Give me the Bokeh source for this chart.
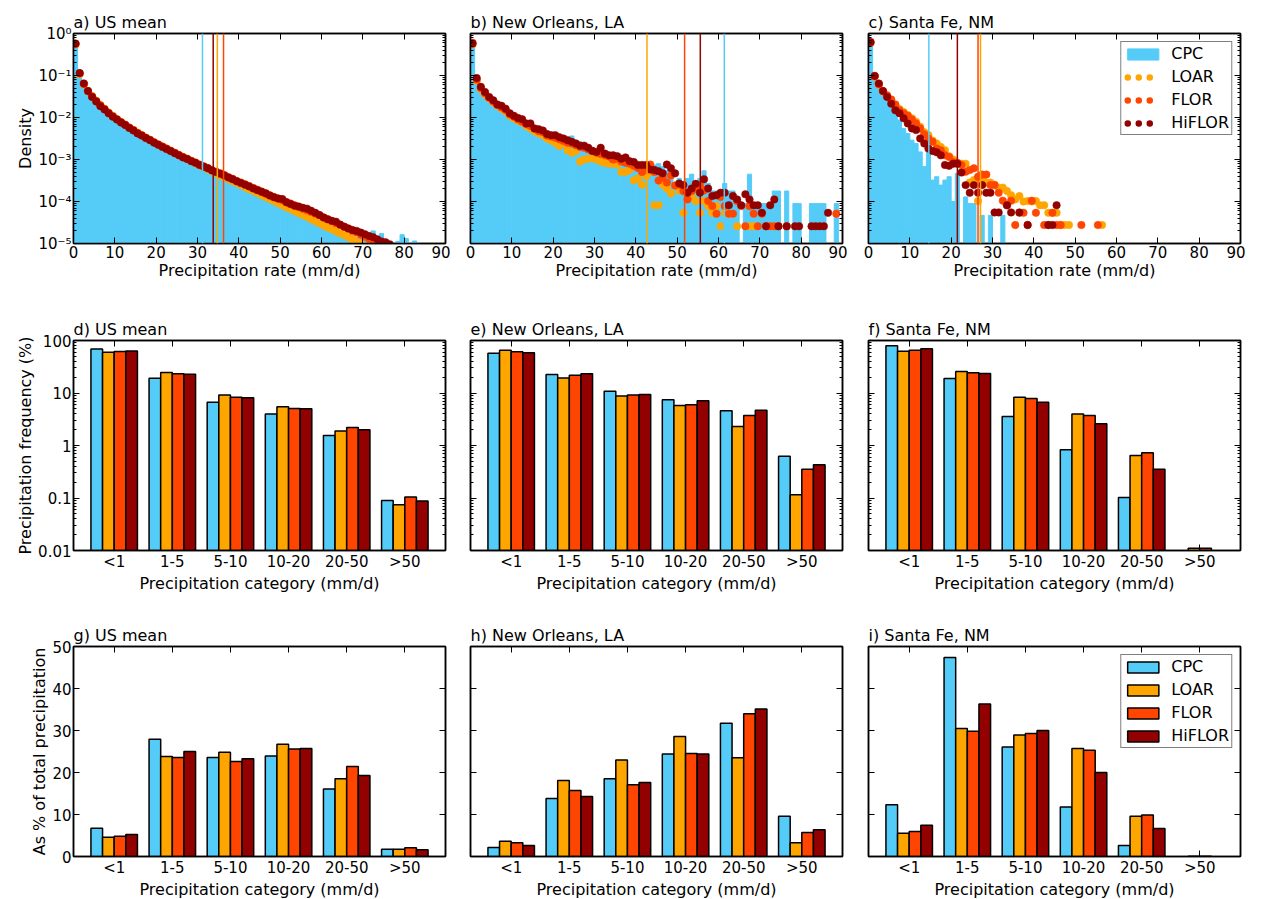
import numpy as np
from bokeh.plotting import figure
from bokeh.layouts import column, row
from bokeh.models import (FactorRange, FixedTicker, LinearAxis, LogAxis, CategoricalAxis,
                          CustomJSTickFormatter, Span, Legend, LegendItem, ColumnDataSource)
from bokeh.transform import dodge
from bokeh.embed import file_html
from bokeh.resources import INLINE

FONT = "DejaVu Sans"
SERIES = ["CPC", "LOAR", "FLOR", "HiFLOR"]
COLORS = {"CPC": "#55CCF8", "LOAR": "#FFA500", "FLOR": "#FF4500", "HiFLOR": "#930000"}
CATS = ["<1", "1-5", "5-10", "10-20", "20-50", ">50"]

# ---------------- top row: log10(density), 1 mm/d bins starting at 0 ----------------
cpc_a = [-0.20, -1.07, -1.26, -1.42, -1.55, -1.66, -1.76, -1.84, -1.92, -2.00,
         -2.07, -2.14, -2.20, -2.27, -2.33, -2.39, -2.45, -2.51, -2.56, -2.62,
         -2.67, -2.72, -2.77, -2.82, -2.87, -2.92, -2.97, -3.02, -3.07, -3.11,
         -3.16, -3.20, -3.25, -3.29, -3.34, -3.38, -3.43, -3.47, -3.52, -3.57,
         -3.61, -3.66, -3.70, -3.75, -3.80, -3.84, -3.89, -3.93, -3.98, -4.03,
         -4.07, -4.12, -4.16, -4.21, -4.26, -4.30, -4.35, -4.39, -4.44, -4.48,
         -4.53, -4.57, -4.61, -4.66, -4.70, -4.74, -4.78, -4.82, -4.86, -4.67,
         -4.80, -4.75, -4.70, -4.90, -4.76, -4.92, None, None, -4.95, -4.79,
         -4.88, None, -4.94]
loar_a = [-0.26, -0.97, -1.21, -1.37, -1.49, -1.60, -1.70, -1.79, -1.88, -1.96,
          -2.04, -2.11, -2.17, -2.24, -2.30, -2.36, -2.42, -2.48, -2.53, -2.59,
          -2.64, -2.69, -2.74, -2.79, -2.84, -2.89, -2.94, -2.99, -3.04, -3.09,
          -3.14, -3.19, -3.23, -3.28, -3.33, -3.38, -3.42, -3.47, -3.52, -3.56,
          -3.61, -3.66, -3.71, -3.75, -3.80, -3.85, -3.90, -3.94, -3.99, -4.04,
          -4.09, -4.14, -4.18, -4.23, -4.28, -4.32, -4.37, -4.42, -4.47, -4.52,
          -4.57, -4.62, -4.66, -4.71, -4.76, -4.80, -4.85, -4.90, -4.95, -5.00]
flor_a = [-0.25, -0.95, -1.20, -1.37, -1.50, -1.61, -1.71, -1.80, -1.89, -1.97,
          -2.04, -2.11, -2.17, -2.24, -2.30, -2.37, -2.42, -2.48, -2.53, -2.59,
          -2.64, -2.69, -2.74, -2.79, -2.84, -2.89, -2.94, -2.98, -3.03, -3.07,
          -3.12, -3.16, -3.20, -3.25, -3.29, -3.33, -3.37, -3.42, -3.46, -3.51,
          -3.55, -3.59, -3.63, -3.68, -3.72, -3.76, -3.80, -3.85, -3.89, -3.93,
          -3.97, -4.01, -4.05, -4.09, -4.13, -4.17, -4.21, -4.25, -4.29, -4.33,
          -4.38, -4.43, -4.47, -4.52, -4.56, -4.60, -4.65, -4.70, -4.74, -4.79,
          -4.84, -4.89, -4.93, -4.98, -5.02]
hifl_a = [-0.24, -0.94, -1.19, -1.37, -1.51, -1.62, -1.73, -1.81, -1.90, -1.98,
          -2.05, -2.12, -2.18, -2.25, -2.31, -2.38, -2.43, -2.49, -2.54, -2.60,
          -2.65, -2.70, -2.75, -2.80, -2.85, -2.90, -2.95, -2.99, -3.04, -3.08,
          -3.13, -3.17, -3.21, -3.26, -3.30, -3.34, -3.38, -3.43, -3.47, -3.52,
          -3.56, -3.60, -3.64, -3.69, -3.73, -3.77, -3.81, -3.86, -3.90, -3.93,
          -3.94, -4.02, -4.06, -4.10, -4.12, -4.15, -4.17, -4.22, -4.27, -4.32,
          -4.38, -4.42, -4.46, -4.48, -4.55, -4.60, -4.64, -4.68, -4.70, -4.74,
          -4.78, -4.82, -4.85, -4.90, -4.95, -4.97, -5.02]

cpc_b = [-0.16, -1.07, -1.27, -1.43, -1.51, -1.59, -1.67, -1.75, -1.83, -1.90,
         -1.93, -1.96, -2.00, -2.10, -2.14, -2.20, -2.26, -2.30, -2.38, -2.42,
         -2.46, -2.50, -2.54, -2.50, -2.44, -2.54, -2.58, -2.62, -2.67, -2.74,
         -2.78, -2.80, -2.83, -2.88, -2.94, -2.98, -3.02, -3.04, -3.07, -3.12,
         -3.15, -3.20, -3.23, -3.21, -3.13, -3.10, -3.17, -3.27, -3.35, -3.57,
         -3.45, -3.57, -3.45, -3.35, -3.57, -3.45, -3.27, -3.57, -3.75, -3.75,
         -3.75, -3.57, -3.75, -3.75, -4.05, None, -4.05, -3.35, -4.05, -4.05,
         -4.05, -4.05, -4.05, -3.75, -3.75, None, -3.75, None, -4.05, -4.05,
         None, None, -4.05, -4.05, -4.05, -4.05, None, None, -4.05]
loar_b = [-0.26, -1.12, -1.33, -1.45, -1.55, -1.64, -1.72, -1.79, -1.86, -1.96,
          -2.02, -2.08, -2.12, -2.20, -2.26, -2.33, -2.38, -2.42, -2.50, -2.55,
          -2.60, -2.68, -2.63, -2.78, -2.84, -2.80, -3.05, -3.00, -2.98, -2.97,
          -3.00, -3.05, -3.08, -3.10, -3.10, -3.12, -3.30, -3.30, -3.25, -3.50,
          -3.45, -3.60, -3.40, -3.30, -4.09, -4.09, -3.60, -3.69, -3.81, -3.62,
          -3.74, -4.27, -3.80, -3.89, -3.99, -4.27, -3.99, -4.11, -4.27, -4.11,
          -4.59, -4.27, -4.29, None, -4.59, None, None, -4.59, -4.59, None,
          None, None, -4.59, None, -4.59]
flor_b = [-0.22, -1.10, -1.30, -1.42, -1.53, -1.62, -1.70, -1.76, -1.82, -1.93,
          -1.98, -2.05, -2.10, -2.16, -2.20, -2.27, -2.33, -2.35, -2.43, -2.45,
          -2.48, -2.52, -2.56, -2.60, -2.62, -2.66, -2.70, -2.72, -2.76, -2.79,
          -2.84, -2.87, -2.90, -2.93, -3.00, -2.98, -3.05, -3.08, -3.10, -3.15,
          -3.20, -3.30, -3.25, -3.12, -3.30, -3.50, -3.42, -3.55, -3.38, -3.62,
          -3.60, -3.75, -3.95, -3.75, -3.69, -3.62, -3.74, -3.99, -4.11, -4.29,
          -3.89, -4.11, -4.29, -4.29, -3.99, -4.11, -4.59, -4.11, -4.29, -4.59,
          -4.29, -4.59, -4.59, -4.59, -4.59, None, -4.59, None, None, None,
          None, None, None, None, None, None, None, None, -4.29]
hifl_b = [-0.24, -1.06, -1.27, -1.39, -1.51, -1.59, -1.69, -1.72, -1.79, -1.90,
          -1.96, -2.01, -2.04, -2.14, -2.14, -2.26, -2.28, -2.31, -2.39, -2.42,
          -2.42, -2.47, -2.50, -2.54, -2.58, -2.62, -2.67, -2.67, -2.72, -2.80,
          -2.82, -2.72, -2.86, -2.90, -2.90, -2.92, -2.98, -2.95, -3.04, -3.06,
          -3.13, -3.13, -3.13, -3.24, -3.25, -3.28, -3.33, -3.12, -3.21, -3.33,
          -3.57, -3.61, -3.79, -3.69, -3.58, -3.79, -3.47, -3.69, -3.87, -3.85,
          -3.79, -3.79, -4.09, -3.87, -3.95, -4.09, -3.83, -3.95, -4.09, -4.09,
          -4.27, -4.59, -4.09, -3.95, -4.59, None, -4.59, None, -4.59, -4.59,
          None, None, -4.59, -4.59, -4.59, -4.59, -4.27]

cpc_c = [-0.15, -1.07, -1.27, -1.43, -1.55, -1.71, -1.90, -2.06, -2.26, -2.38,
         -2.54, -2.62, -2.82, -3.17, -2.70, -3.49, -3.41, -3.61, -3.49, -3.41,
         -4.00, -3.33, None, -3.89, -4.05, -4.05, None, -4.33, None, -4.33,
         None, None, -4.33]
loar_c = [-0.22, -1.03, -1.22, -1.38, -1.49, -1.58, -1.70, -1.80, -1.87, -1.94,
          -2.02, -2.10, -2.22, -2.35, -2.42, -2.55, -2.62, -2.70, -2.78, -2.92,
          -3.00, -3.10, -3.10, -3.10, -3.55, -3.49, -3.99, -3.45, -3.55, -3.55,
          -3.60, -3.67, -3.67, -3.75, -3.85, -3.95, -3.87, -4.00, -3.99, -4.00,
          -3.99, -4.09, -4.09, -4.27, -4.27, -4.27, -4.56, -4.56, -4.56, None,
          None, None, None, None, None, None, -4.56]
flor_c = [-0.22, -1.01, -1.21, -1.37, -1.47, -1.57, -1.69, -1.83, -1.90, -1.96,
          -2.05, -2.14, -2.26, -2.40, -2.50, -2.58, -2.74, -2.78, -2.90, -2.94,
          -3.06, -3.08, -3.13, -3.29, -3.25, -3.21, -3.41, -3.36, -3.36, -3.61,
          -3.61, -3.79, -3.98, -4.09, -3.98, -4.56, -4.27, -4.27, -4.56, -3.98,
          -4.27, None, -4.56, -4.56, -4.27, -4.56, -4.56, None, None, None,
          None, -4.56, None, None, None, -4.56]
hifl_c = [-0.20, -1.01, -1.19, -1.37, -1.51, -1.67, -1.83, -1.90, -2.02, -2.14,
          -2.26, -2.30, -2.50, -2.62, -2.74, -2.80, -2.83, -2.90, -3.13, -3.15,
          -3.10, -3.10, -3.31, -3.61, -3.79, -3.61, -3.79, -3.61, -3.79, -3.79,
          -4.26, -4.26, None, -4.09, -4.26, None, -4.26, None, -4.56, None,
          None, None, None, -4.56, -4.56, -4.09]

# vertical marker lines (mm/d)
marks_a = {"CPC": 31.2, "LOAR": 34.8, "FLOR": 36.3, "HiFLOR": 33.8}
marks_b = {"CPC": 61.4, "LOAR": 42.7, "FLOR": 51.8, "HiFLOR": 55.6}
marks_c = {"CPC": 14.6, "LOAR": 27.1, "FLOR": 26.5, "HiFLOR": 21.5}

# ---------------- middle row: precipitation frequency (%) ----------------
freq_us = {"CPC": [69, 19.2, 6.7, 4.0, 1.55, 0.09],
           "LOAR": [60, 24.5, 9.2, 5.45, 1.88, 0.074],
           "FLOR": [62, 23.2, 8.3, 5.07, 2.2, 0.104],
           "HiFLOR": [63, 22.8, 8.1, 5.0, 2.0, 0.088]}
freq_no = {"CPC": [57.4, 22.5, 10.8, 7.4, 4.57, 0.627],
           "LOAR": [65.5, 19.4, 8.8, 5.8, 2.3, 0.115],
           "FLOR": [60.8, 21.9, 9.2, 5.95, 3.73, 0.354],
           "HiFLOR": [58.2, 23.2, 9.4, 7.1, 4.7, 0.43]}
freq_sf = {"CPC": [79, 18.9, 3.56, 0.83, 0.102, 0],
           "LOAR": [62.7, 25.7, 8.33, 4.0, 0.645, 0.011],
           "FLOR": [65.5, 24.2, 7.85, 3.73, 0.724, 0.011],
           "HiFLOR": [69.4, 23.5, 6.7, 2.59, 0.354, 0]}

# ---------------- bottom row: % of total precipitation ----------------
tot_us = {"CPC": [6.75, 27.9, 23.6, 23.9, 16.1, 1.75],
          "LOAR": [4.6, 23.8, 24.8, 26.75, 18.5, 1.75],
          "FLOR": [4.84, 23.6, 22.6, 25.6, 21.4, 2.1],
          "HiFLOR": [5.24, 25.0, 23.25, 25.7, 19.3, 1.6]}
tot_no = {"CPC": [2.14, 13.8, 18.5, 24.4, 31.75, 9.6],
          "LOAR": [3.65, 18.1, 23.0, 28.6, 23.5, 3.3],
          "FLOR": [3.25, 15.7, 17.1, 24.5, 34.0, 5.7],
          "HiFLOR": [2.6, 14.3, 17.6, 24.4, 35.1, 6.35]}
tot_sf = {"CPC": [12.3, 47.4, 26.1, 11.8, 2.6, 0],
          "LOAR": [5.56, 30.5, 28.9, 25.7, 9.6, 0.05],
          "FLOR": [5.95, 29.8, 29.3, 25.3, 9.9, 0.05],
          "HiFLOR": [7.46, 36.3, 30.0, 20.0, 6.67, 0]}

DENS_TICKS = [1e-5, 1e-4, 1e-3, 1e-2, 1e-1, 1.0]
DENS_MINOR = [m * 10.0 ** e for e in range(-5, 0) for m in range(2, 10)]
FREQ_TICKS = [0.01, 0.1, 1.0, 10.0, 100.0]
FREQ_MINOR = [m * 10.0 ** e for e in range(-2, 2) for m in range(2, 10)]
RATE_TICKS = list(range(0, 91, 10))
PCT_TICKS = list(range(0, 51, 10))

SUP_CODE = r"""
const e = Math.round(Math.log10(tick));
const m = {"-": "\u207b", "0": "\u2070", "1": "\u00b9", "2": "\u00b2", "3": "\u00b3", "4": "\u2074", "5": "\u2075"};
return "10" + String(e).split("").map((c) => m[c]).join("");
"""
FREQ_CODE = "return tick >= 1 ? tick.toFixed(0) : String(tick);"
BLANK_CODE = "return '';"

FW, FH = 372, 210
LEFTS = [73, 20, 21]
RIGHTS = [5, 5, 5]


def log_density(vals):
    return 10.0 ** np.array(vals, dtype=float)


def style_axis(ax, show_labels, label=None, minor=True):
    ax.axis_line_color = "black"
    ax.axis_line_width = 1.5
    ax.major_tick_line_color = "black"
    ax.major_tick_line_width = 1
    ax.minor_tick_line_color = "black" if minor else None
    ax.major_tick_in = 6
    ax.major_tick_out = 0
    ax.minor_tick_in = 3
    ax.minor_tick_out = 0
    ax.major_label_text_font = FONT
    ax.major_label_text_color = "black"
    if show_labels:
        ax.major_label_text_font_size = "15px"
        ax.major_label_standoff = 2
    else:
        if not isinstance(ax, CategoricalAxis):
            ax.formatter = CustomJSTickFormatter(code=BLANK_CODE)
        ax.major_label_text_font_size = "2px"
        ax.major_label_text_alpha = 0
        ax.major_label_standoff = 0
    if label is not None:
        ax.axis_label = label
    ax.axis_label_text_font = FONT
    ax.axis_label_text_font_size = "16px"
    ax.axis_label_text_font_style = "normal"
    ax.axis_label_text_color = "black"
    ax.axis_label_standoff = 0


def base_style(p):
    p.outline_line_color = "black"
    p.outline_line_width = 1.5
    p.xgrid.visible = False
    p.ygrid.visible = False
    p.title.text_font = FONT
    p.title.text_font_size = "16px"
    p.title.text_font_style = "normal"
    p.title.text_color = "black"
    p.title.align = "left"
    p.title.standoff = 4
    p.title.offset = 0


def make_legend(items):
    return Legend(items=items, location="top_right", margin=8, padding=2, spacing=4,
                  glyph_width=39, glyph_height=14, label_height=18, label_standoff=9,
                  label_text_font=FONT, label_text_font_size="16px", label_text_color="black",
                  border_line_color="black", border_line_width=1.5,
                  background_fill_color="white", background_fill_alpha=1.0)


def density_panel(idx, title, cpc, loar, flor, hifl, marks, legend=False):
    p = figure(title=title, frame_width=FW, frame_height=FH, x_range=(0, 90), y_range=(1e-5, 1),
               y_axis_type="log", output_backend="svg", toolbar_location=None,
               min_border_left=LEFTS[idx], min_border_right=RIGHTS[idx],
               min_border_top=33, min_border_bottom=48)
    base_style(p)
    edges = np.arange(len(cpc), dtype=float)
    hist = p.quad(left=edges, right=edges + 1, bottom=1e-6, top=log_density(cpc),
                  fill_color=COLORS["CPC"], line_color=COLORS["CPC"], line_width=1)
    for s, vals in (("LOAR", loar), ("FLOR", flor), ("HiFLOR", hifl)):
        xs = np.arange(len(vals)) + 0.5
        p.scatter(xs, log_density(vals), size=7.5, fill_color=COLORS[s], line_color=COLORS[s], line_width=0.5)
    for s in SERIES:
        p.add_layout(Span(location=marks[s], dimension="height", line_color=COLORS[s], line_width=1.5))

    xt = FixedTicker(ticks=RATE_TICKS)
    yt = FixedTicker(ticks=DENS_TICKS, minor_ticks=DENS_MINOR)
    xa = p.xaxis[0]
    xa.ticker = xt
    style_axis(xa, True, "Precipitation rate (mm/d)", minor=False)
    ya = p.yaxis[0]
    ya.ticker = yt
    ya.formatter = CustomJSTickFormatter(code=SUP_CODE)
    style_axis(ya, idx == 0, "Density" if idx == 0 else None)
    ra = LogAxis(ticker=yt)
    style_axis(ra, False)
    p.add_layout(ra, "right")
    ta = LinearAxis(ticker=xt)
    style_axis(ta, False, minor=False)
    p.add_layout(ta, "above")

    if legend:
        items = [LegendItem(label="CPC", renderers=[hist])]
        for s in ("LOAR", "FLOR", "HiFLOR"):
            dummy = p.line(x=[0.5], y=[1e-9], line_color=COLORS[s], line_width=6.5, line_cap="round",
                           line_dash="0 11 0 11 0 50", line_dash_offset=-4)
            items.append(LegendItem(label=s, renderers=[dummy]))
        p.add_layout(make_legend(items))
    return p


def cat_panel(idx, title, values, ylog, ylabel, top_b, bot_b, legend=False):
    xr = FactorRange(factors=CATS, range_padding=0.2, range_padding_units="absolute")
    if ylog:
        p = figure(title=title, frame_width=FW, frame_height=FH, x_range=xr, y_range=(0.01, 100),
                   y_axis_type="log", output_backend="svg", toolbar_location=None,
                   min_border_left=LEFTS[idx], min_border_right=RIGHTS[idx],
                   min_border_top=top_b, min_border_bottom=bot_b)
    else:
        p = figure(title=title, frame_width=FW, frame_height=FH, x_range=xr, y_range=(0, 50),
                   output_backend="svg", toolbar_location=None,
                   min_border_left=LEFTS[idx], min_border_right=RIGHTS[idx],
                   min_border_top=top_b, min_border_bottom=bot_b)
    base_style(p)
    offsets = [-0.3, -0.1, 0.1, 0.3]
    rends = {}
    for s, off in zip(SERIES, offsets):
        v = np.array(values[s], dtype=float)
        v[v <= 0] = np.nan
        src = ColumnDataSource(dict(cat=CATS, top=v))
        rends[s] = p.vbar(x=dodge("cat", off, range=xr), top="top", bottom=(1e-3 if ylog else 0),
                          width=0.2, source=src, fill_color=COLORS[s], line_color="black", line_width=1.5)
    xa = p.xaxis[0]
    style_axis(xa, True, "Precipitation category (mm/d)", minor=False)
    ta = CategoricalAxis(major_label_overrides={c: "" for c in CATS})
    style_axis(ta, False, minor=False)
    p.add_layout(ta, "above")
    ya = p.yaxis[0]
    if ylog:
        yt = FixedTicker(ticks=FREQ_TICKS, minor_ticks=FREQ_MINOR)
        ya.ticker = yt
        ya.formatter = CustomJSTickFormatter(code=FREQ_CODE)
        ra = LogAxis(ticker=yt)
        style_axis(ra, False)
    else:
        yt = FixedTicker(ticks=PCT_TICKS)
        ya.ticker = yt
        ra = LinearAxis(ticker=yt)
        style_axis(ra, False, minor=False)
    style_axis(ya, idx == 0, ylabel if idx == 0 else None, minor=ylog)
    p.add_layout(ra, "right")
    if legend:
        p.add_layout(make_legend([LegendItem(label=s, renderers=[rends[s]]) for s in SERIES]))
    return p


pa = density_panel(0, "a) US mean", cpc_a, loar_a, flor_a, hifl_a, marks_a)
pb = density_panel(1, "b) New Orleans, LA", cpc_b, loar_b, flor_b, hifl_b, marks_b)
pc = density_panel(2, "c) Santa Fe, NM", cpc_c, loar_c, flor_c, hifl_c, marks_c, legend=True)

pd_ = cat_panel(0, "d) US mean", freq_us, True, "Precipitation frequency (%)", 49, 48)
pe = cat_panel(1, "e) New Orleans, LA", freq_no, True, None, 49, 48)
pf = cat_panel(2, "f) Santa Fe, NM", freq_sf, True, None, 49, 48)

pg = cat_panel(0, "g) US mean", tot_us, False, "As % of total precipitation", 48, 38)
ph = cat_panel(1, "h) New Orleans, LA", tot_no, False, None, 48, 38)
pi = cat_panel(2, "i) Santa Fe, NM", tot_sf, False, None, 48, 38, legend=True)

layout = column(row(pa, pb, pc), row(pd_, pe, pf), row(pg, ph, pi))

with open("out.html", "w", encoding="utf-8") as f:
    f.write(file_html(layout, INLINE))
